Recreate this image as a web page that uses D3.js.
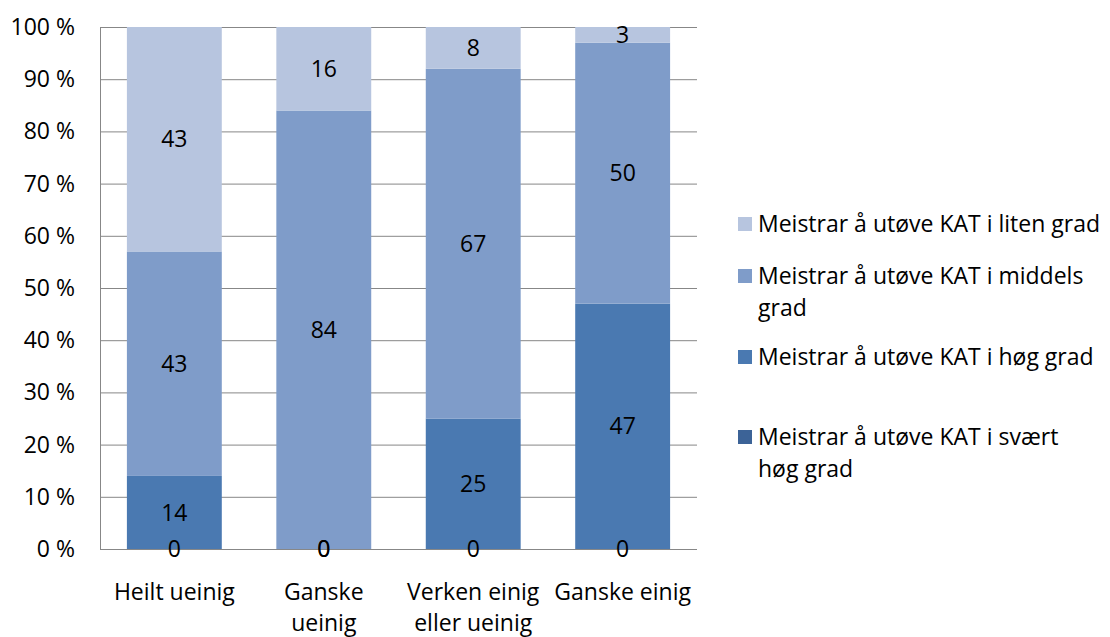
<!DOCTYPE html>
<html>
<head>
<meta charset="utf-8">
<script src="https://cdn.jsdelivr.net/npm/d3@7"></script>
<style>
  body { margin: 0; background: #fff; }
  svg text { font-family: "Open Sans", Lato, sans-serif; fill: #000; }
</style>
</head>
<body>
<svg id="chart" width="1110" height="637"></svg>
<script>
'use strict';

const categories = [['Heilt ueinig'], ['Ganske', 'ueinig'], ['Verken einig', 'eller ueinig'], ['Ganske einig']];
const seriesNames = [
    'Meistrar å utøve KAT i svært høg grad',
    'Meistrar å utøve KAT i høg grad',
    'Meistrar å utøve KAT i middels grad',
    'Meistrar å utøve KAT i liten grad'
];
const sværtHøg = [0, 0, 0, 0];
const høg = [14, 0, 25, 47];
const middels = [43, 84, 67, 50];
const liten = [43, 16, 8, 3];
const yTicks = [0, 10, 20, 30, 40, 50, 60, 70, 80, 90, 100];

// legend text is wrapped the same way as in the original
const legendLines = [
    ['Meistrar å utøve KAT i liten grad'],
    ['Meistrar å utøve KAT i middels', 'grad'],
    ['Meistrar å utøve KAT i høg grad'],
    ['Meistrar å utøve KAT i svært', 'høg grad']
];
const legendY = [224, 276, 357, 437];

const COLORS = ['#3c6397', '#4a79b1', '#7f9cc9', '#b7c5df'];
const FONT = 23;
const plot = { left: 100, right: 697, top: 27, bottom: 549 };

const svg = d3.select('#chart');

const rows = categories.map((c, i) => ({
    i: i,
    s0: sværtHøg[i], s1: høg[i], s2: middels[i], s3: liten[i]
}));
const keys = ['s0', 's1', 's2', 's3'];
const stacked = d3.stack().keys(keys).offset(d3.stackOffsetExpand)(rows);

const x = d3.scaleBand()
    .domain(d3.range(categories.length))
    .range([plot.left, plot.right])
    .paddingInner(0.365)
    .paddingOuter(0.18);

const y = d3.scaleLinear().domain([0, 1]).range([plot.bottom, plot.top]);

// gridlines
svg.append('g')
    .selectAll('line')
    .data(yTicks)
    .join('line')
    .attr('x1', plot.left)
    .attr('x2', plot.right)
    .attr('y1', (d) => y(d / 100) + 0.5)
    .attr('y2', (d) => y(d / 100) + 0.5)
    .attr('stroke', '#878787')
    .attr('stroke-width', 1);

// y axis line
svg.append('line')
    .attr('x1', plot.left + 0.5).attr('x2', plot.left + 0.5)
    .attr('y1', plot.top).attr('y2', plot.bottom + 1)
    .attr('stroke', '#878787');

// y labels
svg.append('g')
    .selectAll('text')
    .data(yTicks)
    .join('text')
    .attr('x', 75)
    .attr('y', (d) => y(d / 100))
    .attr('dy', '0.35em')
    .attr('text-anchor', 'end')
    .style('font-size', FONT + 'px')
    .text((d) => d + ' %');

// bars
const layers = svg.append('g')
    .selectAll('g')
    .data(stacked)
    .join('g')
    .attr('fill', (d, i) => COLORS[i]);

layers.selectAll('rect')
    .data((d) => d)
    .join('rect')
    .attr('x', (d) => x(d.data.i))
    .attr('width', x.bandwidth())
    .attr('y', (d) => y(d[1]))
    .attr('height', (d) => y(d[0]) - y(d[1]));

// bottom axis line drawn over the bars
svg.append('line')
    .attr('x1', plot.left).attr('x2', plot.right)
    .attr('y1', plot.bottom + 0.5).attr('y2', plot.bottom + 0.5)
    .attr('stroke', '#878787');

// value labels
const labelG = svg.append('g');
stacked.forEach((layer) => {
    labelG.selectAll(null)
        .data(layer)
        .join('text')
        .attr('x', (d) => x(d.data.i) + x.bandwidth() / 2)
        .attr('y', (d) => y((d[0] + d[1]) / 2))
        .attr('dy', '0.35em')
        .attr('text-anchor', 'middle')
        .style('font-size', FONT + 'px')
        .text((d) => d.data[layer.key]);
});

// category labels, baselines placed like the original
const catG = svg.append('g')
    .selectAll('text')
    .data(categories)
    .join('text')
    .attr('x', (d, i) => x(i) + x.bandwidth() / 2)
    .attr('y', 600)
    .attr('text-anchor', 'middle')
    .style('font-size', FONT + 'px');

catG.selectAll('tspan')
    .data((d) => d)
    .join('tspan')
    .attr('x', function() { return d3.select(this.parentNode).attr('x'); })
    .attr('dy', (d, i) => i === 0 ? 0 : 31)
    .text((d) => d);

// legend
const legend = svg.append('g')
    .selectAll('g')
    .data(legendLines)
    .join('g')
    .attr('transform', (d, i) => `translate(738,${legendY[i]})`);

legend.append('rect')
    .attr('x', 0)
    .attr('y', -7)
    .attr('width', 14)
    .attr('height', 14)
    .attr('fill', (d, i) => COLORS[3 - i]);

legend.append('text')
    .attr('x', 20)
    .attr('y', 0)
    .style('font-size', FONT + 'px')
    .selectAll('tspan')
    .data((d) => d)
    .join('tspan')
    .attr('x', 20)
    .attr('dy', (d, i) => i === 0 ? '0.35em' : '1.38em')
    .text((d) => d);
</script>
</body>
</html>
